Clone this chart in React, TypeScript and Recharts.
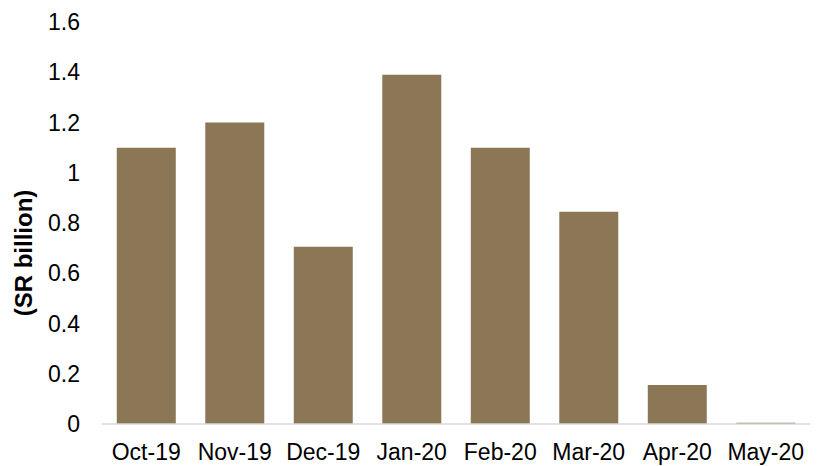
import React from "react";
import { BarChart, Bar, XAxis, YAxis } from "recharts";

const categories = ["Oct-19", "Nov-19", "Dec-19", "Jan-20", "Feb-20", "Mar-20", "Apr-20", "May-20"];
const values = [1.1, 1.2, 0.705, 1.39, 1.1, 0.845, 0.155, 0.005];
const yTicks = [0, 0.2, 0.4, 0.6, 0.8, 1, 1.2, 1.4, 1.6];

const data = categories.map((c, i) => ({ month: c, value: values[i] }));

const font = "'Liberation Sans', Arial, sans-serif";

const YLabel = (props: any) => {
  const vb = props.viewBox || {};
  const cx = 23;
  const cy = vb.y + vb.height / 2 + 30;
  return (
    <text
      x={cx}
      y={cy}
      transform={`rotate(-90, ${cx}, ${cy})`}
      textAnchor="middle"
      dominantBaseline="central"
      fontFamily={font}
      fontSize={24}
      fontWeight="bold"
      fill="#000"
    >
      (SR billion)
    </text>
  );
};

export default function App() {
  return (
    <div style={{ position: "absolute", left: 0, top: 0, background: "#fff" }}>
      <BarChart
        width={817}
        height={466}
        data={data}
        margin={{ top: 22, right: 7, bottom: 0, left: 0 }}
        barCategoryGap="16.7%"
      >
        <XAxis
          dataKey="month"
          height={42}
          tickLine={false}
          axisLine={{ stroke: "#D9D9D9", strokeWidth: 1.5 }}
          tick={{ fontFamily: font, fontSize: 23, fill: "#000" }}
          tickMargin={14}
          interval={0}
        />
        <YAxis
          width={102}
          domain={[0, 1.6]}
          ticks={yTicks}
          axisLine={false}
          tickLine={false}
          tickSize={0}
          tickMargin={22}
          tick={{ fontFamily: font, fontSize: 23, fill: "#000" }}
          label={<YLabel />}
        />
        <Bar dataKey="value" fill="#8B7755" isAnimationActive={false} />
      </BarChart>
    </div>
  );
}
